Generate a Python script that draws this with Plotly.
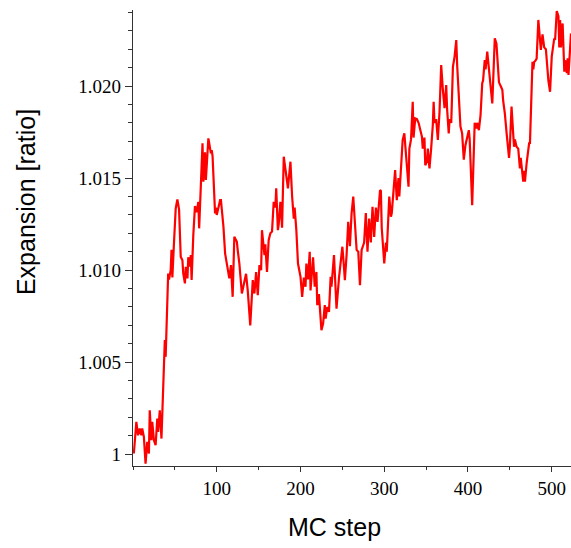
import plotly.graph_objects as go

# Monte Carlo step (x) and expansion ratio (y)
mc_step = [1, 4, 6, 8, 10, 11, 13, 15, 17, 19, 20, 22, 23, 25, 27, 29, 30, 32, 34, 35,
           37, 38, 39, 41, 42, 43, 45, 46, 47, 49, 51, 53, 54, 55, 57, 59, 60, 62, 63, 65,
           66, 68, 69, 70, 72, 74, 76, 78, 79, 81, 83, 84, 86, 87, 90, 91, 93, 94, 95, 98,
           99, 100, 102, 104, 105, 108, 110, 113, 115, 117, 119, 121, 124, 125, 127, 130, 133, 135, 137, 140,
           143, 145, 147, 149, 151, 153, 154, 157, 158, 160, 162, 164, 166, 168, 170, 171, 173, 174, 176, 178,
           180, 182, 184, 185, 188, 190, 192, 193, 195, 197, 200, 202, 204, 206, 207, 209, 211, 212, 215, 217,
           219, 220, 222, 225, 227, 229, 230, 232, 234, 236, 237, 240, 242, 243, 246, 248, 250, 252, 253, 255,
           257, 259, 260, 261, 263, 265, 266, 267, 269, 271, 273, 276, 278, 280, 282, 284, 286, 288, 290, 292,
           295, 296, 297, 300, 302, 303, 306, 308, 309, 312, 313, 315, 317, 318, 320, 322, 324, 325, 327, 329,
           330, 332, 334, 335, 337, 339, 341, 343, 345, 346, 348, 349, 351, 352, 354, 356, 358, 359, 360, 362,
           364, 366, 368, 370, 372, 374, 375, 377, 378, 380, 382, 384, 386, 387, 389, 391, 393, 395, 397, 399,
           401, 402, 405, 407, 408, 410, 411, 413, 415, 417, 418, 420, 421, 423, 425, 426, 427, 429, 430, 432,
           434, 436, 437, 439, 441, 442, 444, 446, 448, 449, 450, 452, 454, 455, 456, 458, 460, 462, 463, 466,
           467, 468, 470, 473, 474, 477, 478, 479, 481, 482, 484, 485, 487, 489, 490, 491, 493, 495, 496, 498,
           499, 500, 503, 504, 506, 508, 509, 510, 511, 513, 515, 516, 518, 519, 520, 523]

expansion = [1.00004, 1.00176, 1.00103, 1.0014, 1.00103, 1.0014, 1.00094, 0.99949, 1.00067, 1.00004,
             1.00239, 1.00076, 1.00176, 1.00076, 1.00049, 1.00194, 1.00121, 1.00239, 1.00085, 1.00221,
             1.0045, 1.0062, 1.00529, 1.0085, 1.00982, 1.00949, 1.0100, 1.0111, 1.0096, 1.01154,
             1.01335, 1.01384, 1.0134, 1.0133, 1.01072, 1.01054, 1.00982, 1.00928, 1.01018, 1.00955,
             1.0107, 1.0102, 1.01082, 1.00946, 1.0119, 1.01348, 1.01315, 1.01371, 1.01227, 1.01489,
             1.01689, 1.0148, 1.0164, 1.0149, 1.01716, 1.01689, 1.01634, 1.01652, 1.0162, 1.01308,
             1.0134, 1.013, 1.0134, 1.0138, 1.0138, 1.01235, 1.0109, 1.0102, 1.00955, 1.01027,
             1.00855, 1.01181, 1.01154, 1.0111, 1.01036, 1.00873, 1.00946, 1.0098, 1.0089, 1.0070,
             1.00946, 1.00873, 1.0099, 1.00864, 1.01027, 1.0100, 1.01217, 1.01082, 1.0114, 1.0099,
             1.01163, 1.0120, 1.0121, 1.01371, 1.0134, 1.01444, 1.01217, 1.0125, 1.01371, 1.0123,
             1.01616, 1.0156, 1.0148, 1.01444, 1.01589, 1.0140, 1.0128, 1.0134, 1.0122, 1.01036,
             1.00964, 1.00855, 1.0096, 1.0091, 1.01036, 1.0095, 1.0110, 1.0089, 1.0107, 1.0091,
             1.0099, 1.0081, 1.0087, 1.00674, 1.0071, 1.0081, 1.00737, 1.0080, 1.00773, 1.00964,
             1.0091, 1.01082, 1.0087, 1.0079, 1.0096, 1.0104, 1.01127, 1.0101, 1.00946, 1.0108,
             1.01262, 1.0113, 1.0129, 1.01308, 1.0140, 1.0123, 1.01217, 1.0111, 1.0110, 1.00918,
             1.0111, 1.0115, 1.0131, 1.0110, 1.0128, 1.0115, 1.01344, 1.0118, 1.0134, 1.01262,
             1.01435, 1.0143, 1.0123, 1.01036, 1.0115, 1.0110, 1.0140, 1.0129, 1.0131, 1.01453,
             1.01543, 1.0138, 1.0150, 1.0140, 1.01562, 1.01707, 1.01743, 1.0168, 1.0157, 1.01453,
             1.0166, 1.0171, 1.01915, 1.0172, 1.01824, 1.0182, 1.0180, 1.0176, 1.01725, 1.0166,
             1.0172, 1.0157, 1.0159, 1.0166, 1.01553, 1.0166, 1.01788, 1.01915, 1.0180, 1.0182,
             1.01707, 1.0186, 1.02114, 1.0198, 1.0188, 1.02005, 1.0188, 1.01743, 1.0182, 1.0180,
             1.02105, 1.0216, 1.0225, 1.0212, 1.0195, 1.0178, 1.01743, 1.0160, 1.0168, 1.0172,
             1.0176, 1.0171, 1.01353, 1.01652, 1.0180, 1.0177, 1.0180, 1.0176, 1.01842, 1.02015,
             1.0203, 1.02141, 1.0209, 1.02187, 1.0210, 1.0203, 1.0199, 1.01906, 1.0202, 1.02259,
             1.0223, 1.02096, 1.0202, 1.0200, 1.0198, 1.0192, 1.01851, 1.0175, 1.01634, 1.0161,
             1.0167, 1.01888, 1.0174, 1.0167, 1.0171, 1.0167, 1.0166, 1.01553, 1.0161, 1.0148,
             1.0154, 1.0148, 1.0158, 1.01689, 1.0169, 1.02132, 1.0209, 1.0213, 1.0214, 1.0215,
             1.02359, 1.0230, 1.02196, 1.0228, 1.0223, 1.0221, 1.0220, 1.02087, 1.0203, 1.01969,
             1.0204, 1.0216, 1.02259, 1.0225, 1.02407, 1.0238, 1.0221, 1.02359, 1.0221, 1.0234,
             1.02078, 1.0214, 1.0207, 1.0215, 1.0206, 1.02286]

x_tick_vals = [100, 200, 300, 400, 500]
x_tick_text = ["100", "200", "300", "400", "500"]
y_tick_vals = [1.000, 1.005, 1.010, 1.015, 1.020]
y_tick_text = ["1", "1.005", "1.010", "1.015", "1.020"]

fig = go.Figure()
fig.add_trace(go.Scatter(
    x=mc_step, y=expansion, mode="lines",
    line=dict(color="#ff0000", width=2.2),
    showlegend=False, hoverinfo="skip",
))

tick_font = dict(family="Liberation Serif, Times New Roman, serif", size=19, color="#000")
title_font = dict(family="Liberation Sans, Arial, sans-serif", size=25, color="#000")

fig.update_layout(
    width=571, height=548,
    margin=dict(l=133, r=0, t=10, b=82, autoexpand=False),
    paper_bgcolor="white", plot_bgcolor="white",
    xaxis=dict(
        range=[0, 523], showgrid=False, zeroline=False, automargin=False,
        showline=True, linecolor="#333", linewidth=1.3,
        tickmode="array", tickvals=x_tick_vals, ticktext=x_tick_text,
        ticks="outside", ticklen=5, tickcolor="#333", tickwidth=1.3,
        tickfont=tick_font,
        minor=dict(dtick=50, tick0=0, ticks="outside", ticklen=3, tickcolor="#333", tickwidth=1.3),
    ),
    yaxis=dict(
        range=[0.99936, 1.02413], showgrid=False, zeroline=False, automargin=False,
        showline=True, linecolor="#333", linewidth=1.3,
        tickmode="array", tickvals=y_tick_vals, ticktext=y_tick_text,
        ticks="outside", ticklen=7, tickcolor="#333", tickwidth=1.3,
        tickfont=tick_font,
        minor=dict(dtick=0.001, tick0=1.0, ticks="outside", ticklen=4, tickcolor="#333", tickwidth=1.3),
    ),
    annotations=[
        dict(text="MC step", xref="paper", yref="paper", x=0.461, y=-0.134,
             xanchor="center", yanchor="middle", showarrow=False, font=title_font),
        dict(text="Expansion [ratio]", xref="paper", yref="paper", x=-0.244, y=0.579,
             xanchor="center", yanchor="middle", textangle=-90, showarrow=False, font=title_font),
    ],
)

fig.write_html("out.html", config={"displayModeBar": False},
               post_script="document.body.style.margin='0';document.body.style.overflow='hidden';")
